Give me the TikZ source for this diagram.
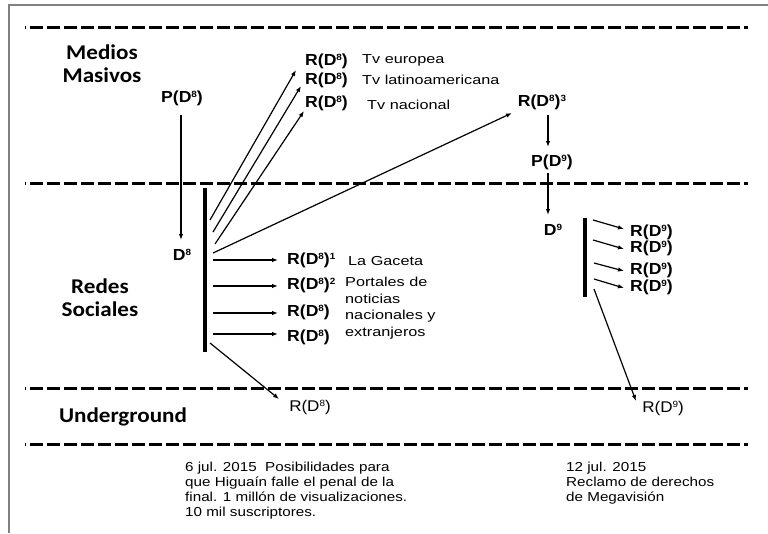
\documentclass[tikz,border=0pt]{standalone}
\usepackage{fontspec}
\setmainfont{Liberation Sans}
\newfontfamily\secfont[FakeStretch=1.1]{Carlito}
\newfontfamily\labfont[FakeStretch=1.1]{Liberation Sans}
\newfontfamily\notefont[FakeStretch=1.25]{Liberation Sans}
\newfontfamily\bnotefont[FakeStretch=1.17]{Liberation Sans}
\newcommand\sups[1]{\raisebox{4.6pt}{\fontsize{9}{9}\selectfont #1}}
\usetikzlibrary{arrows.meta}
\begin{document}
\begin{tikzpicture}[x=1pt,y=-1pt,
  sep/.style={line width=3pt, dash pattern=on 13pt off 4pt, dash phase=12pt},
  frame/.style={line width=1.6pt, black!50},
  sect/.style={font=\secfont\bfseries\fontsize{21}{23}\selectfont, align=center, inner sep=0pt},
  rl/.style={font=\labfont\bfseries\fontsize{16}{18}\selectfont, inner sep=0pt, anchor=west},
  note/.style={font=\notefont\fontsize{13}{16.5}\selectfont, inner sep=0pt, anchor=west, align=left},
  bnote/.style={font=\bnotefont\fontsize{13}{15}\selectfont, inner sep=0pt, anchor=north west, align=left},
  bar/.style={line width=4.5pt},
  arr/.style={line width=1.2pt, -{Latex[length=6pt,width=4.5pt]}},
]
\useasboundingbox (0,0) rectangle (768,533);
% frame
\draw[frame] (9,533) -- (9,5) -- (768,5);
% separators
\draw[sep] (25,27) -- (748,27);
\draw[sep] (25,183) -- (748,183);
\draw[sep] (25,388) -- (748,388);
\draw[sep] (25,444) -- (748,444);
% section labels
\node[sect] (medios) at (102,64) {Medios\\Masivos};
\node[sect] (redes) at (100,298) {Redes\\Sociales};
\node[sect] (under) at (123,417) {Underground};
% left column
\node[rl, anchor=center] (p8) at (182,98) {P(D\sups{8})};
\node[rl, anchor=center] (d8) at (182,255) {D\sups{8}};
\coordinate (p8s) at (181,115);
\coordinate (d8n) at (181,240);
\draw[arr] (p8s) -- (d8n);
\draw[bar] (205,188) coordinate (bartop) -- (205,352) coordinate (barbot);
% top R labels
\node[rl] (tv1) at (305,61) {R(D\sups{8})};
\node[rl] (tv2) at (305,80) {R(D\sups{8})};
\node[rl] (tv3) at (305,103) {R(D\sups{8})};
\node[note] (tv1t) at (362,60) {Tv europea};
\node[note] (tv2t) at (362,80) {Tv latinoamericana};
\node[note] (tv3t) at (367,105) {Tv nacional};
\coordinate (b1) at (210,220);
\coordinate (b2) at (213,232);
\coordinate (b3) at (215,244);
\coordinate (b4) at (213,253);
\coordinate (t1) at (296,70);
\coordinate (t2) at (301,86);
\coordinate (t3) at (304,111);
\draw[arr] (b1) -- (t1);
\draw[arr] (b2) -- (t2);
\draw[arr] (b3) -- (t3);
% long arrow to R(D8)^3
\node[rl, anchor=center] (r83) at (542,102) {R(D\sups{8})\sups{3}};
\coordinate (t4) at (512,113);
\draw[arr] (b4) -- (t4);
% horizontal arrows
\node[rl] (g1) at (287,260) {R(D\sups{8})\sups{1}};
\node[rl] (g2) at (287,285) {R(D\sups{8})\sups{2}};
\node[rl] (g3) at (287,312) {R(D\sups{8})};
\node[rl] (g4) at (287,337) {R(D\sups{8})};
\node[note] (gac) at (348,261) {La Gaceta};
\node[note, anchor=north west] (port) at (345,277) {Portales de\\noticias\\nacionales y\\extranjeros};
\coordinate (h1) at (213,260);
\coordinate (h2) at (213,286);
\coordinate (h3) at (213,313);
\coordinate (h4) at (213,334);
\coordinate (e1) at (278,260);
\coordinate (e2) at (278,286);
\coordinate (e3) at (278,313);
\coordinate (e4) at (278,334);
\draw[arr] (h1) -- (e1);
\draw[arr] (h2) -- (e2);
\draw[arr] (h3) -- (e3);
\draw[arr] (h4) -- (e4);
% underground left
\node[rl, font=\labfont\fontsize{15.5}{18}\selectfont, anchor=center] (u8) at (310,407) {R(D\sups{8})};
\coordinate (b5) at (210,343);
\coordinate (e5) at (279,399);
\draw[arr] (b5) -- (e5);
% right column
\node[rl, anchor=center] (p9) at (552,162) {P(D\sups{9})};
\node[rl, anchor=center] (d9) at (553,230) {D\sups{9}};
\coordinate (r83s) at (548,115);
\coordinate (p9n) at (548,147);
\coordinate (p9s) at (548,173);
\coordinate (d9n) at (548,215);
\draw[arr] (r83s) -- (p9n);
\draw[arr] (p9s) -- (d9n);
\draw[bar] (585,218) coordinate (rbtop) -- (585,297) coordinate (rbbot);
\node[rl] (s1) at (630,232) {R(D\sups{9})};
\node[rl] (s2) at (630,248) {R(D\sups{9})};
\node[rl] (s3) at (630,270) {R(D\sups{9})};
\node[rl] (s4) at (630,287) {R(D\sups{9})};
\coordinate (c1) at (593,220);
\coordinate (c2) at (593,240);
\coordinate (c3) at (594,263);
\coordinate (c4) at (594,279);
\coordinate (c5) at (594,289);
\coordinate (f1) at (624,229);
\coordinate (f2) at (624,249);
\coordinate (f3) at (624,271);
\coordinate (f4) at (624,288);
\draw[arr] (c1) -- (f1);
\draw[arr] (c2) -- (f2);
\draw[arr] (c3) -- (f3);
\draw[arr] (c4) -- (f4);
\node[rl, font=\labfont\fontsize{15.5}{18}\selectfont, anchor=center] (u9) at (663,408) {R(D\sups{9})};
\coordinate (e9) at (636,401);
\draw[arr] (c5) -- (e9);
% bottom notes
\node[bnote] (n1) at (185,462) {6 jul. 2015\ \ Posibilidades para\\que Higuaín falle el penal de la\\final. 1 millón de visualizaciones.\\10 mil suscriptores.};
\node[bnote] (n2) at (566,462) {12 jul. 2015\\Reclamo de derechos\\de Megavisión};
\end{tikzpicture}
\end{document}
